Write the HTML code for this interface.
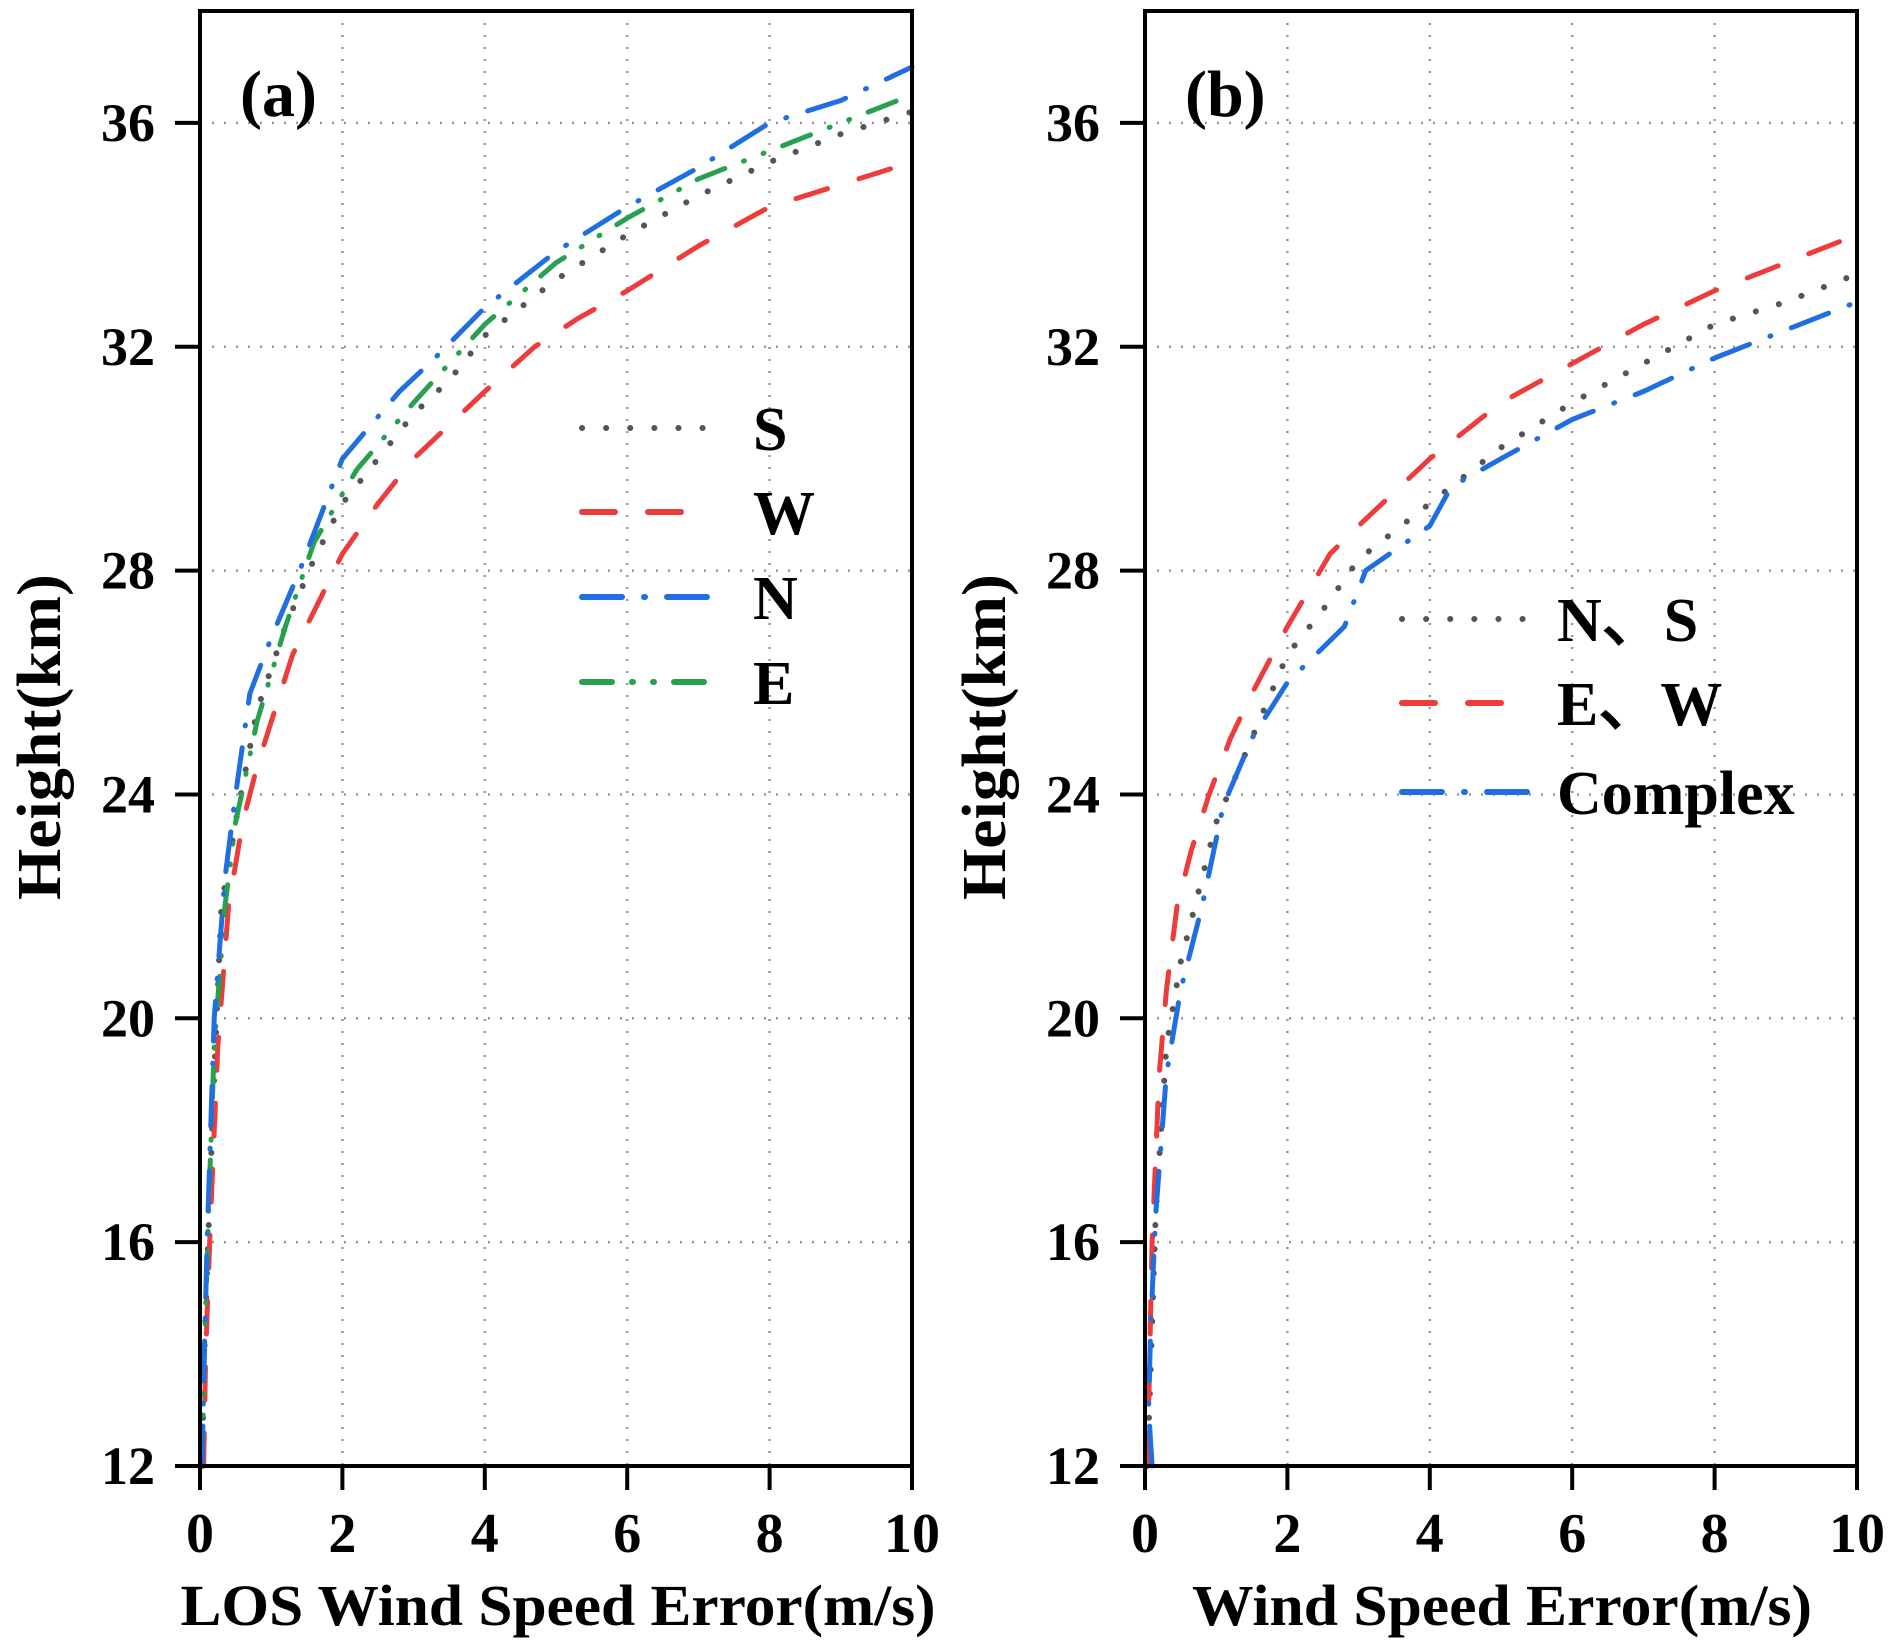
<!DOCTYPE html>
<html><head><meta charset="utf-8"><style>
html,body{margin:0;padding:0;background:#fff}
svg{display:block}
text{font-family:"Liberation Serif",serif;font-weight:bold;fill:#000}
</style></head><body>
<svg id="chart" width="1895" height="1650" viewBox="0 0 1895 1650" xmlns="http://www.w3.org/2000/svg"></svg>
<script>
const xTicks=[0,2,4,6,8,10];
const yTicks=[12,16,20,24,28,32,36];
// Panel (a) series: x = error (m/s), h = height (km)
const aS_x=[0.03,0.06,0.12,0.2,0.3,0.5,0.8,1.2,1.6,2,2.5,3,3.5,4,5,6,7,8,9,10];
const aS_h=[12,14,16.2,19,22,23.5,25.5,27,28.2,29.2,30,30.8,31.4,32.2,33.2,34,34.7,35.3,35.8,36.2];
const aW_x=[0.05,0.08,0.15,0.25,0.4,0.6,0.8,1.3,2,2.5,3,4,4.7,5.3,6,7,8,9,10];
const aW_h=[12,14,16.5,19.5,22,23.5,24.5,26.5,28.3,29.2,30,31.2,32,32.5,33,33.8,34.5,34.9,35.3];
const aN_x=[0.03,0.06,0.1,0.2,0.35,0.5,0.7,1,1.4,2,2.8,3.3,4,5,6,7,8,9,10];
const aN_h=[12,14,16,20,22.5,24,25.8,26.8,28,30,31.2,31.8,32.7,33.7,34.5,35.2,36,36.4,37];
const aE_x=[0.03,0.06,0.12,0.2,0.35,0.5,0.8,1.2,1.6,2.2,3,4,5,6,7,8,9,10];
const aE_h=[12,14,16.5,19.5,22,23.5,25.3,27,28.5,29.8,31,32.4,33.5,34.3,35,35.5,36,36.5];
// Panel (b)
const bNS_x=[0.03,0.06,0.15,0.3,0.5,0.7,1,1.5,2,2.5,3,4,5,6,7,8,9,10];
const bNS_h=[12,13,16.5,19.5,21,22,23.5,25,26.5,27.3,28.2,29.2,30.2,31,31.7,32.4,32.8,33.3];
const bEW_x=[0.03,0.05,0.1,0.2,0.3,0.45,0.65,0.9,1.2,1.5,2,2.6,3,4,5,6,7,8,9,10];
const bEW_h=[12,13,16,19,20.5,22,23,24,25,25.8,27,28.3,28.8,30,31,31.7,32.4,33,33.5,34];
const bC_x=[0.1,0.05,0.08,0.15,0.3,0.5,0.8,1.1,1.5,2,2.8,3.1,4,4.3,5,6,7,8,9,10];
const bC_h=[12,13,14.5,16.5,19,20.5,22,23.8,25,26,27,28,28.8,29.5,30,30.7,31.2,31.8,32.3,32.8];

const NS='http://www.w3.org/2000/svg';
const svg=document.getElementById('chart');
function mk(tag,attrs,parent){const e=document.createElementNS(NS,tag);for(const k in attrs)e.setAttribute(k,attrs[k]);(parent||svg).appendChild(e);return e;}
const styles={
 dot:{stroke:'#555',dash:'0.1 24'},
 dash:{stroke:'#ee3b3b',dash:'33 33'},
 dashdot:{stroke:'#1f6fe3',dash:'40 22 1 22'},
 dashdotdot:{stroke:'#27a04f',dash:'30 20 1 20 1 20'}
};
function panel(cfg){
 const L=cfg.left,R=cfg.left+712,T=11,B=1466;
 const sx=v=>L+(v-0)/10*(R-L);
 const sy=v=>B-(v-12)/(38-12)*(B-T);
 const g=mk('g',{});
 
 
 xTicks.forEach(t=>{if(t>0&&t<10){const l=mk('line',{x1:sx(t),x2:sx(t),y1:T,y2:B,stroke:'#999','stroke-width':2.5,'stroke-dasharray':'2 10'},g);}});
 yTicks.forEach(t=>{if(t>12){const l=mk('line',{x1:L,x2:R,y1:sy(t),y2:sy(t),stroke:'#999','stroke-width':2.5,'stroke-dasharray':'2 10'},g);}});
 cfg.series.forEach(s=>{
  const st=styles[s.style];
  const pts=s.x.map((v,i)=>sx(v).toFixed(1)+','+sy(s.h[i]).toFixed(1)).join(' ');
  const p=mk('polyline',{points:pts,fill:'none',stroke:st.stroke,'stroke-width':s.style==='dot'?6:5,'stroke-dasharray':st.dash,'stroke-linecap':'round','stroke-linejoin':'round'},g);
  
  
 });
 const fr=mk('rect',{x:L,y:T,width:R-L,height:B-T,fill:'none',stroke:'#000','stroke-width':4},g);
 
 
 xTicks.forEach(t=>{
  const l=mk('line',{x1:sx(t),x2:sx(t),y1:B,y2:B+24,stroke:'#000','stroke-width':4},g);
  
  
  const tx=mk('text',{x:sx(t),y:1552,'font-size':56,'text-anchor':'middle'},g);tx.textContent=t;
  
  
 });
 yTicks.forEach(t=>{
  const l=mk('line',{x1:L-25,x2:L,y1:sy(t),y2:sy(t),stroke:'#000','stroke-width':4},g);
  
  
  const tx=mk('text',{x:L-45,y:sy(t)+18,'font-size':54,'text-anchor':'end'},g);tx.textContent=t;
  
  
 });
 const xt=mk('text',{x:cfg.xtx,y:1625,'font-size':58,'text-anchor':'middle',textLength:cfg.xtl,lengthAdjust:'spacingAndGlyphs'},g);xt.textContent=cfg.xtitle;
 
 
 const yt=mk('text',{x:0,y:0,'font-size':62,'text-anchor':'middle',textLength:326,lengthAdjust:'spacingAndGlyphs',transform:`translate(${L-140},737) rotate(-90)`},g);yt.textContent='Height(km)';
 
 
 const pl=mk('text',{x:L+40,y:116,'font-size':66},g);pl.textContent=cfg.label;
 
 
 cfg.legend.forEach((e,i)=>{
  const y=cfg.legY[i];
  const st=styles[e.style];
  const l=mk('line',{x1:cfg.legX,x2:cfg.legX+132,y1:y,y2:y,stroke:st.stroke,'stroke-width':6,'stroke-dasharray':st.dash,'stroke-linecap':'round'},g);
  
  
  const t=mk('text',{x:cfg.legTX,y:y+22,'font-size':62},g);t.textContent=e.label;
  
  
 });
}
panel({name:'panel-a',left:200,label:'(a)',xtitle:'LOS Wind Speed Error(m/s)',xtx:558,xtl:755,
 series:[{key:'S',style:'dot',x:aS_x,h:aS_h},{key:'W',style:'dash',x:aW_x,h:aW_h},{key:'E',style:'dashdotdot',x:aE_x,h:aE_h},{key:'N',style:'dashdot',x:aN_x,h:aN_h}],
 legend:[{label:'S',style:'dot'},{label:'W',style:'dash'},{label:'N',style:'dashdot'},{label:'E',style:'dashdotdot'}],
 legX:582,legTX:753,legY:[428,512,597,682]});
panel({name:'panel-b',left:1145,label:'(b)',xtitle:'Wind Speed Error(m/s)',xtx:1502,xtl:620,
 series:[{key:'NS',style:'dot',x:bNS_x,h:bNS_h},{key:'EW',style:'dash',x:bEW_x,h:bEW_h},{key:'Complex',style:'dashdot',x:bC_x,h:bC_h}],
 legend:[{label:'N、S',style:'dot'},{label:'E、W',style:'dash'},{label:'Complex',style:'dashdot'}],
 legX:1402,legTX:1557,legY:[619,703,792]});
</script>
</body></html>
